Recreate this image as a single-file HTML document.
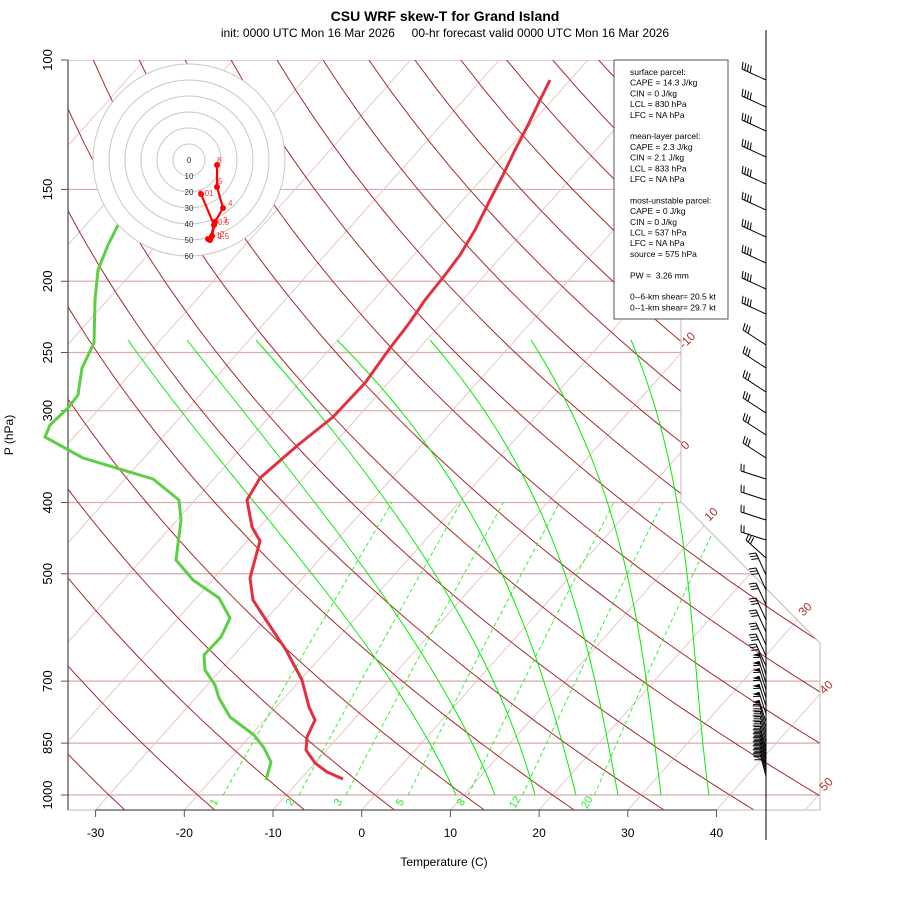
<!DOCTYPE html>
<html><head><meta charset="utf-8">
<style>
html,body{margin:0;padding:0;background:#fff;}
svg{display:block;font-family:"Liberation Sans",Arial,sans-serif;}
</style></head>
<body>
<svg id="s" width="900" height="900" viewBox="0 0 900 900" xmlns="http://www.w3.org/2000/svg">
<defs>
<clipPath id="fr"><polygon points="68,60 681,60 681,502 820,643 820,810 68,810"/></clipPath>
</defs>
<rect width="900" height="900" fill="#fff"/>
<g id="bg" clip-path="url(#fr)"></g>
<g id="fg"></g>
<text x="445" y="21" text-anchor="middle" font-size="14" font-weight="bold">CSU WRF skew-T for Grand Island</text>
<text x="445" y="37" text-anchor="middle" font-size="12" xml:space="preserve" style="white-space:pre">init: 0000 UTC Mon 16 Mar 2026     00-hr forecast valid 0000 UTC Mon 16 Mar 2026</text>
<text x="444" y="866" text-anchor="middle" font-size="12">Temperature (C)</text>
<text transform="translate(13,435) rotate(-90)" text-anchor="middle" font-size="12">P (hPa)</text>
</svg>
<script>
(function(){
var bg=document.getElementById('bg'),fg=document.getElementById('fg');
function Y(p){return 795-319.2*Math.log(1000/p);}
function X(T,p){return 361.7+8.87*T+0.893*(810-Y(p));}
var out='';
function pl(pts,st){return '<polyline fill="none" points="'+pts.map(function(a){return a[0].toFixed(1)+','+a[1].toFixed(1)}).join(' ')+'" '+st+'/>';}
[100,150,200,250,300,400,500,700,850,1000].forEach(function(p){var y=Y(p);out+='<line x1="68" x2="820" y1="'+y+'" y2="'+y+'" stroke="#d8aaaa" stroke-width="1.2"/>';});
for(var T=-150;T<=60;T+=10){var a=[];for(var p=1050;p>=100;p-=50)a.push([X(T,p),Y(p)]);a.push([X(T,100),Y(100)]);out+=pl(a,'stroke="#e8c0c0" stroke-width="0.9"');}
for(var th=-40;th<=200;th+=10){var a=[];for(var p=1050;p>=100;p-=10){var t=(th+273.15)*Math.pow(p/1000,0.2857)-273.15;a.push([X(t,p),Y(p)]);}out+=pl(a,'stroke="#a52a2a" stroke-width="1"');}
[1,2,3,5,8,12,20].forEach(function(w){var a=[];for(var p=1000;p>=400;p-=20){var e=w*p/(622+w),l=Math.log(e/6.112),td=243.5*l/(17.67-l);a.push([X(td,p),Y(p)]);}out+=pl(a,'stroke="#22ee22" stroke-width="0.9" stroke-dasharray="4,3"');});
// moist adiabats (empirical, Lagrange through measured points)
var ys=[340,440,574,795];
var ML=[[128,204,312,456],[187,266,368,495],[256,340,435,535],[337,423,502,576],[430,503,565,618],[531,584,627,661],[631,664,687,709]];
ML.forEach(function(xs){var a=[];for(var y=340;y<=795;y+=5){var v=0;for(var i=0;i<4;i++){var t=xs[i];for(var j=0;j<4;j++)if(j!=i)t*=(y-ys[j])/(ys[i]-ys[j]);v+=t;}a.push([v,y]);}out+=pl(a,'stroke="#00ee00" stroke-width="1"');});
bg.innerHTML=out;
out='';
out+='<polyline fill="none" stroke="#bbb" stroke-width="1" points="681,60 681,502 820,643 820,810 68,810"/>';
out+='<line x1="68" y1="60" x2="68" y2="810" stroke="#555" stroke-width="1.3"/>';
out+='<line x1="95.6" y1="810" x2="717" y2="810" stroke="#555" stroke-width="1.3"/>';
[100,150,200,250,300,400,500,700,850,1000].forEach(function(p){var y=Y(p);out+='<line x1="61" x2="68" y1="'+y+'" y2="'+y+'" stroke="#555"/>';out+='<text transform="translate(52,'+y+') rotate(-90)" text-anchor="middle" font-size="13">'+p+'</text>';});
for(var T=-30;T<=40;T+=10){var x=361.7+8.87*T;out+='<line x1="'+x+'" x2="'+x+'" y1="810" y2="817" stroke="#555"/><text x="'+x+'" y="837" text-anchor="middle" font-size="12">'+T+'</text>';}
[[-10,690,343],[0,688,448],[10,714,517],[30,808,612],[40,829,690],[50,829,787]].forEach(function(l){out+='<text transform="translate('+l[1]+','+l[2]+') rotate(-45)" text-anchor="middle" font-size="12" fill="#b03030">'+l[0]+'</text>';});
[[1,217,804],[2,293,804],[3,341,804],[5,403,804],[8,464,804],[12,518,804],[20,590,804]].forEach(function(l){out+='<text transform="translate('+l[1]+','+l[2]+') rotate(-60)" text-anchor="middle" font-size="11" fill="#22ee22">'+l[0]+'</text>';});
var dp=[[118,225],[108,245],[98,270],[95,300],[94,343],[82,368],[78,395],[68,408],[50,425],[45,437],[83,458],[153,479],[179,500],[181,520],[176,560],[193,580],[219,598],[230,618],[221,637],[204,655],[205,670],[215,685],[219,698],[230,717],[254,735],[264,748],[271,762],[266,780]];
out+=pl(dp,'stroke="#5dcf45" stroke-width="3" stroke-linejoin="round"');
var tp=[[550,80],[540,100],[528,125],[515,150],[503,175],[490,200],[475,230],[460,255],[445,275],[425,300],[410,322],[404,330],[390,348],[365,383],[333,417],[298,445],[260,478],[247,500],[252,527],[260,541],[250,578],[253,600],[266,620],[286,650],[302,680],[309,707],[315,720],[307,737],[306,750],[315,763],[327,772],[343,779]];
out+=pl(tp,'stroke="#e23040" stroke-width="3" stroke-linejoin="round"');
out+='<circle cx="189" cy="160" r="96" fill="#fff" stroke="none"/>';
for(var r=16;r<=96;r+=16)out+='<circle cx="189" cy="160" r="'+r+'" fill="none" stroke="#c8c8c8" stroke-width="1"/>';
for(var i=0;i<=6;i++)out+='<text x="189" y="'+(163+i*16)+'" text-anchor="middle" font-size="8" fill="#333">'+(i*10)+'</text>';
var hp=[[201,194],[214,225],[210,240],[208,239],[212,236],[215,222],[223,208],[217,187],[217,165]];
out+=pl(hp,'stroke="#f00" stroke-width="2.2"');
hp.forEach(function(q){out+='<circle cx="'+q[0]+'" cy="'+q[1]+'" r="3" fill="#f00"/>';});
[["0.01",198,196],["0.5",218,225],["3",223,223],["4",228,206],["5",218,184],["8",217,163],["1",216,238],["2",220,237],["1.5",218,239]].forEach(function(l){out+='<text x="'+l[1]+'" y="'+l[2]+'" font-size="8" fill="#f33">'+l[0]+'</text>';});
out+='<rect x="614" y="60" width="114" height="259" fill="#fff" stroke="#555" stroke-width="1"/>';
var L=["surface parcel:","CAPE = 14.3 J/kg","CIN = 0 J/kg","LCL = 830 hPa","LFC = NA hPa","","mean-layer parcel:","CAPE = 2.3 J/kg","CIN = 2.1 J/kg","LCL = 833 hPa","LFC = NA hPa","","most-unstable parcel:","CAPE = 0 J/kg","CIN = 0 J/kg","LCL = 537 hPa","LFC = NA hPa","source = 575 hPa","","PW =  3.26 mm","","0--6-km shear= 20.5 kt","0--1-km shear= 29.7 kt"];
L.forEach(function(s,i){if(s)out+='<text x="630" y="'+(75+i*10.7)+'" font-size="8.5" xml:space="preserve">'+s+'</text>';});
out+='<line x1="766" y1="30" x2="766" y2="840" stroke="#000" stroke-width="1"/>';
function barb(y,dx,dy,n,flags,side){var x0=766,x1=766+dx,y1=y+dy;var s='<line x1="'+x0+'" y1="'+y+'" x2="'+x1+'" y2="'+y1+'" stroke="#000" stroke-width="1"/>';
var L=Math.sqrt(dx*dx+dy*dy),ux=dx/L,uy=dy/L,nx=-uy*side,ny=ux*side;
var k=0;for(var f=0;f<flags;f++){var bx=x1-ux*k*3.5,by=y1-uy*k*3.5,cx=bx-ux*4,cy=by-uy*4;s+='<polygon points="'+bx+','+by+' '+(bx+nx*7)+','+(by+ny*7)+' '+cx+','+cy+'" fill="#000"/>';k+=1.5;}
for(var j=0;j<n;j++){var bx=x1-ux*k*3,by=y1-uy*k*3;s+='<line x1="'+bx+'" y1="'+by+'" x2="'+(bx+nx*7+ux*2)+'" y2="'+(by+ny*7+uy*2)+'" stroke="#000" stroke-width="1"/>';k+=1;}
return s;}
[80,107,131,157,184,210,237,263,289,314].forEach(function(y){out+=barb(y,-24,-11,4,0,1);});
[345,368,392,413,435,458].forEach(function(y){out+=barb(y,-23,-15,3,0,1);});
[479,500,520,540].forEach(function(y){out+=barb(y,-25,-8,2,0,1);});
out+=barb(558,-20,-18,3,0,1);
[575,590,605,620,632,645,656,666].forEach(function(y){out+=barb(y,-10,-22,3,0,-1);});
[675,683,690,698,706,714,722].forEach(function(y){out+=barb(y,-7,-22,1,1,-1);});
[728,733,738,743,748,752,756,760,764,768,772,776].forEach(function(y){out+=barb(y,-6,-22,3,0,-1);});
fg.innerHTML=out;
})();
</script>
</body></html>
